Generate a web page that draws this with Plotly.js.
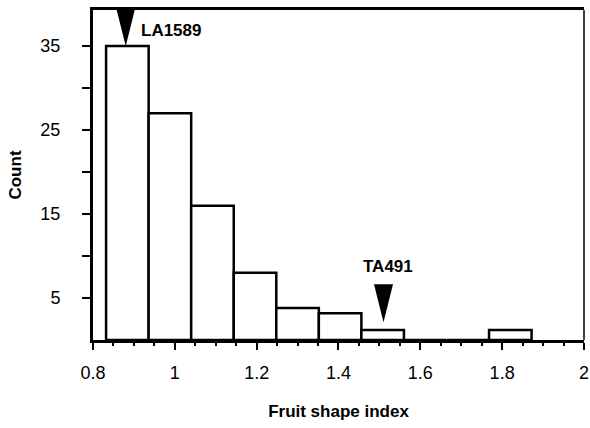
<!DOCTYPE html>
<html>
<head>
<meta charset="utf-8">
<script src="https://cdn.plot.ly/plotly-3.0.1.min.js"></script>
<style>html,body{margin:0;padding:0;background:#fff;}#chart{width:590px;height:428px;}</style>
</head>
<body>
<div id="chart"></div>
<script>
// Histogram bins (centres) and counts
const binCenters = [0.884, 0.988, 1.092, 1.196, 1.300, 1.404, 1.508, 1.612, 1.716, 1.820];
const counts     = [35, 27, 16, 8, 3.8, 3.2, 1.2, 0, 0, 1.2];
const binWidth = 0.104;

// Arrow markers (pointing down) and their labels
const arrowLabels = ['LA1589', 'TA491'];
const arrowX      = [0.88, 1.51];
const arrowTipY   = [35, 2.1];
const labelX      = [0.912, 1.522];
const labelY      = [36.9, 8.7];
const labelAnchor = ['left', 'center'];

const xTickVals = [0.8, 1.0, 1.2, 1.4, 1.6, 1.8, 2.0];
const xTickText = ['0.8', '1', '1.2', '1.4', '1.6', '1.8', '2'];
const yTickVals = [5, 10, 15, 20, 25, 30, 35];
const yTickText = ['5', '', '15', '', '25', '', '35'];

const font = 'Liberation Sans, Arial, sans-serif';

const trace = {
  type: 'bar',
  x: binCenters,
  y: counts,
  width: binCenters.map(() => binWidth),
  marker: {color: '#ffffff', line: {color: '#000000', width: 2.5}},
  hoverinfo: 'x+y'
};

const shapes = arrowX.map((x, i) => ({
  type: 'path',
  xref: 'x', yref: 'y',
  xsizemode: 'pixel', ysizemode: 'pixel',
  xanchor: x, yanchor: arrowTipY[i],
  path: 'M -9.5,38 L 9.5,38 L 0,0 Z',
  fillcolor: '#000000',
  line: {width: 0}
}));
shapes.push({
  type: 'line', xref: 'paper', yref: 'paper',
  x0: 1, x1: 1, y0: 0, y1: 1,
  line: {color: '#000000', width: 1.5}
});

const annotations = arrowLabels.map((t, i) => ({
  text: '<b>' + t + '</b>',
  x: labelX[i], y: labelY[i], xref: 'x', yref: 'y',
  xanchor: labelAnchor[i], yanchor: 'middle',
  showarrow: false,
  font: {family: font, size: 17, color: '#000000'}
}));

const layout = {
  width: 590, height: 428,
  margin: {l: 93, r: 6, t: 10, b: 88},
  paper_bgcolor: '#ffffff', plot_bgcolor: '#ffffff',
  showlegend: false,
  bargap: 0,
  font: {family: font, size: 17, color: '#000000'},
  xaxis: {
    range: [0.8, 2.0001],
    tickmode: 'array', tickvals: xTickVals, ticktext: xTickText,
    ticks: 'outside', ticklen: 7, tickwidth: 2, tickcolor: '#000',
    minor: {tickmode: 'linear', tick0: 0.8, dtick: 0.05, ticks: 'outside', ticklen: 3, tickwidth: 2, tickcolor: '#000'},
    showline: true, linewidth: 3, linecolor: '#000', mirror: true,
    showgrid: false, zeroline: false,
    ticklabelstandoff: 7,
    ticklabeloverflow: 'allow',
    tickfont: {family: font, size: 18},
    title: {text: '<b>Fruit shape index</b>', font: {family: font, size: 17}, standoff: 24}
  },
  yaxis: {
    range: [0, 39.3],
    tickmode: 'array', tickvals: yTickVals, ticktext: yTickText,
    ticks: 'outside', ticklen: 8, tickwidth: 2, tickcolor: '#000',
    showline: true, linewidth: 3, linecolor: '#000', mirror: false,
    showgrid: false, zeroline: false,
    ticklabelstandoff: 18,
    tickfont: {family: font, size: 18},
    title: {text: '<b>Count</b>', font: {family: font, size: 17}, standoff: 15}
  },
  shapes: shapes,
  annotations: annotations
};

Plotly.newPlot('chart', [trace], layout, {displayModeBar: false, staticPlot: true});
</script>
</body>
</html>
